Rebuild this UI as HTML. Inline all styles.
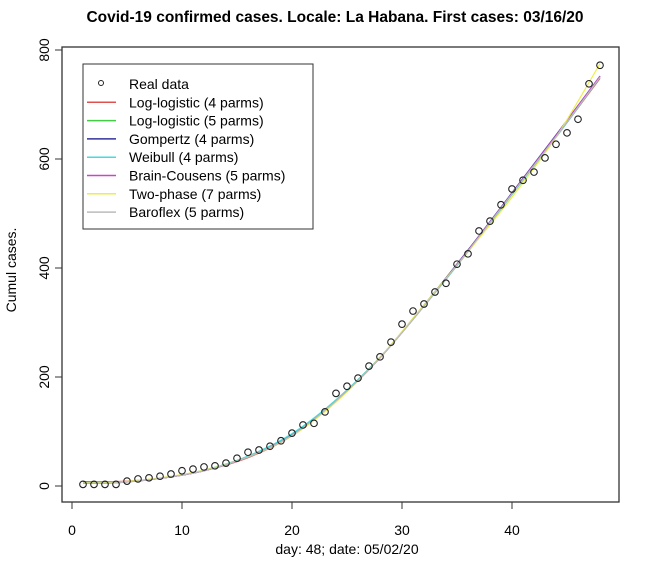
<!DOCTYPE html>
<html><head><meta charset="utf-8"><style>
body{margin:0;background:#fff;}
svg text{font-family:"Liberation Sans",Arial,sans-serif;fill:#000;}
</style></head><body>
<svg id="chart" width="650" height="566">
<text x="335" y="22" font-size="15.5" font-weight="bold" text-anchor="middle">Covid-19 confirmed cases. Locale: La Habana. First cases: 03/16/20</text>
<rect x="62" y="47" width="557" height="455" fill="none" stroke="#333" stroke-width="1.3"/>
<text x="347" y="554" font-size="14" text-anchor="middle">day: 48; date: 05/02/20</text>
<text transform="translate(16,270) rotate(-90)" font-size="14" text-anchor="middle">Cumul cases.</text>
<g id="axes"></g>
<g id="lines"></g>
<g id="points"></g>
<g>
<rect x="83" y="64" width="230" height="165" fill="#fff" stroke="#333" stroke-width="1"/>
<g id="legend"></g>
</g>
</svg>
<script>
const days=[1,2,3,4,5,6,7,8,9,10,11,12,13,14,15,16,17,18,19,20,21,22,23,24,25,26,27,28,29,30,31,32,33,34,35,36,37,38,39,40,41,42,43,44,45,46,47,48];
const cases=[3,3,3,3,9,13,15,18,22,28,31,35,37,42,51,62,66,73,83,97,112,115,136,170,183,198,220,237,264,297,321,334,356,372,407,426,468,486,516,545,561,576,602,627,648,673,738,772];
const fitDays=[1,4,8,12,16,20,24,28,32,36,40,44,48];
const logLogistic4=[8,8,14,28,52,92,155,235,330,430,535,640,748];
const logLogistic5=[5,6,14,29,54,95,158,236,330,430,535,640,750];
const gompertz4=[6,7,14,28,53,94,157,236,332,433,538,644,752];
const weibull4=[6,7,14,29,55,96,158,236,330,430,535,640,750];
const brainCousens5=[5,6,14,28,53,93,156,235,331,432,537,643,752];
const twoPhase7=[6,7,15,29,53,92,154,236,332,430,530,640,775];
const baroflex5=[5,6,14,28,53,93,156,235,330,431,536,641,750];
const xTicks=[0,10,20,30,40];
const yTicks=[0,200,400,600,800];
const X=d=>72+11*d, Y=v=>486-0.545*v;
const NS="http://www.w3.org/2000/svg";
function mk(t,a,p){const e=document.createElementNS(NS,t);for(const k in a)e.setAttribute(k,a[k]);p.appendChild(e);return e;}
const ax=document.getElementById('axes');
xTicks.forEach(t=>{
 const l=mk('line',{x1:X(t),x2:X(t),y1:502,y2:509,stroke:'#333'},ax);
 
 
 const tx=mk('text',{x:X(t),y:535,'font-size':14,'text-anchor':'middle'},ax);tx.textContent=t;
 
 
});
yTicks.forEach(t=>{
 const l=mk('line',{x1:55,x2:62,y1:Y(t),y2:Y(t),stroke:'#333'},ax);
 
 
 const tx=mk('text',{transform:`translate(49,${Y(t)}) rotate(-90)`,'font-size':14,'text-anchor':'middle'},ax);tx.textContent=t;
 
 
});
const series=[["Log-logistic (4 parms)",logLogistic4,"#e05050"],["Log-logistic (5 parms)",logLogistic5,"#44cc44"],["Gompertz (4 parms)",gompertz4,"#333399"],["Weibull (4 parms)",weibull4,"#44dddd"],["Brain-Cousens (5 parms)",brainCousens5,"#cc44cc"],["Two-phase (7 parms)",twoPhase7,"#eeee44"],["Baroflex (5 parms)",baroflex5,"#bbbbbb"]];
const lg=document.getElementById('lines');
function smooth(pts){let d=`M${pts[0][0]},${pts[0][1]}`;for(let i=0;i<pts.length-1;i++){const p0=pts[i-1]||pts[i],p1=pts[i],p2=pts[i+1],p3=pts[i+2]||p2;d+=` C${p1[0]+(p2[0]-p0[0])/6},${p1[1]+(p2[1]-p0[1])/6} ${p2[0]-(p3[0]-p1[0])/6},${p2[1]-(p3[1]-p1[1])/6} ${p2[0]},${p2[1]}`;}return d;}
series.forEach(s=>{
 const p=mk('path',{d:smooth(fitDays.map((d,i)=>[X(d),Y(s[1][i])])),fill:'none',stroke:s[2],'stroke-width':1.2},lg);
 
 
});
const pg=document.getElementById('points');
days.forEach((d,i)=>{
 const c=mk('circle',{cx:X(d),cy:Y(cases[i]),r:3.3,fill:'none',stroke:'#222','stroke-width':1.1},pg);
 
 
});
const leg=document.getElementById('legend');
const labels=["Real data"].concat(series.map(s=>s[0]));
labels.forEach((lab,i)=>{
 const y=84+18.3*i;
 if(i===0){mk('circle',{cx:101,cy:y-1,r:2.5,fill:'none',stroke:'#222'},leg);}
 else{mk('line',{x1:87,x2:116,y1:y,y2:y,stroke:series[i-1][2],'stroke-width':1.5},leg);}
 const t=mk('text',{x:129,y:y+5,'font-size':14},leg);t.textContent=lab;
 
 
});
</script>
</body></html>
